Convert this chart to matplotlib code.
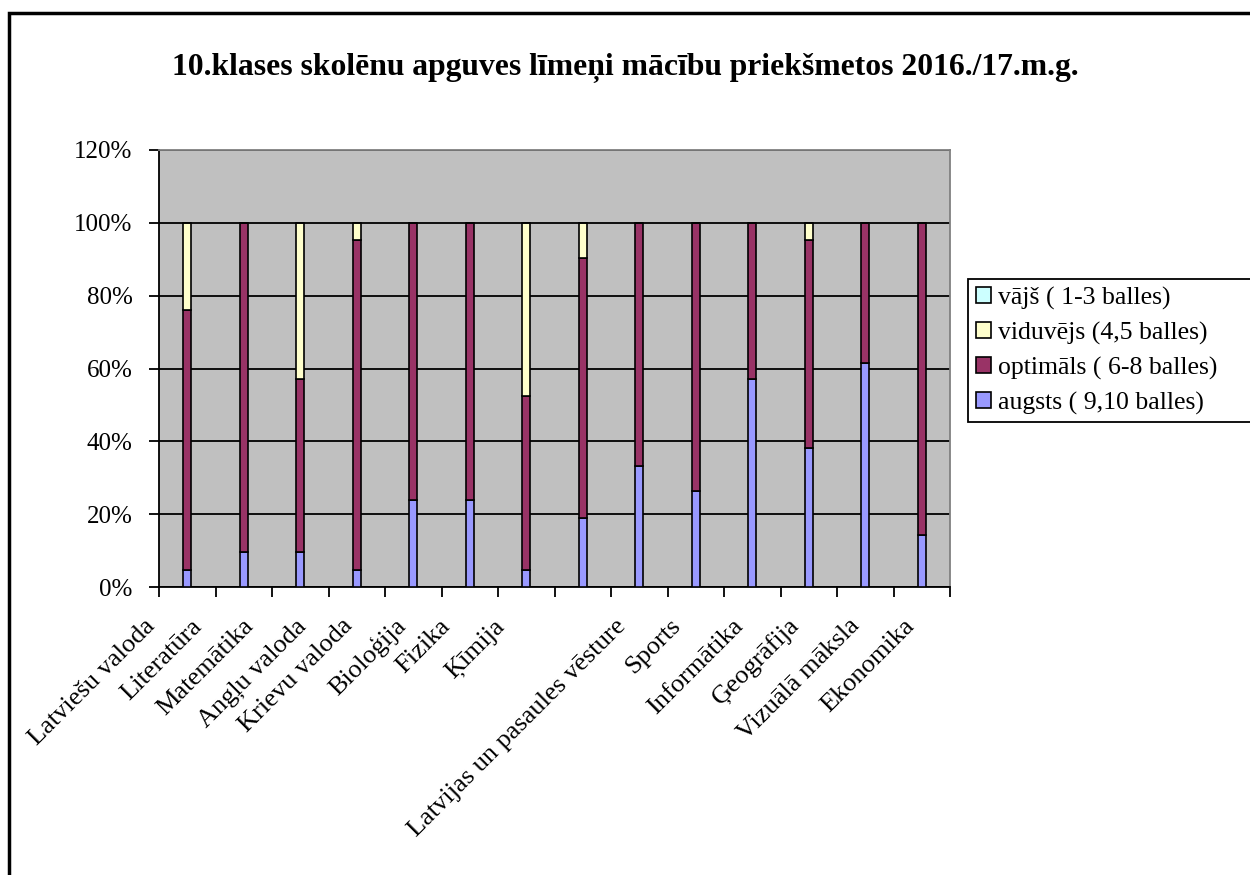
import numpy as np
import matplotlib
matplotlib.use('Agg')
import matplotlib.pyplot as plt
from matplotlib.patches import Rectangle
from matplotlib.ticker import FixedLocator, PercentFormatter

plt.rcParams['font.family'] = ['Liberation Serif', 'DejaVu Serif']

subjects = ['Latviešu valoda', 'Literatūra', 'Matemātika', 'Angļu valoda', 'Krievu valoda',
            'Bioloģija', 'Fizika', 'Ķīmija', 'Latvijas un pasaules vēsture', 'Sports',
            'Informātika', 'Ģeogrāfija', 'Vizuālā māksla', 'Ekonomika']
augsts = [4.8, 9.5, 9.5, 4.8, 23.8, 23.8, 4.8, 19.0, 33.3, 26.3, 57.1, 38.1, 61.5, 14.3]
optimals = [71.4, 90.5, 47.6, 90.5, 76.2, 76.2, 47.6, 71.4, 66.7, 73.7, 42.9, 57.1, 38.5, 85.7]
viduvejs = [23.8, 0, 42.9, 4.7, 0, 0, 47.6, 9.6, 0, 0, 0, 4.8, 0, 0]
vajs = [0] * 14
legend_names = ['augsts ( 9,10 balles)', 'optimāls ( 6-8 balles)', 'viduvējs (4,5 balles)', 'vājš ( 1-3 balles)']
colors = ['#9999FF', '#993366', '#FFFFCC', '#CCFFFF']

# horizontal pixel shift of each rotated label end (Excel layout)
label_shift = [-31, -41, -46, -50, -60, -63, -75, -78, -13, -14, -8, -8, -5, -7]

fig = plt.figure(figsize=(12.5, 8.75), dpi=100)
ax = fig.add_axes([159 / 1250, 1 - 587 / 875, (950 - 159) / 1250, (587 - 150) / 875])
ax.set_facecolor('#C0C0C0')

x = np.arange(len(subjects))
bottom = np.zeros(len(subjects))
series = [augsts, optimals, viduvejs, vajs]
handles = []
for vals, col, name in zip(series, colors, legend_names):
    vals = np.array(vals, dtype=float)
    b = ax.bar(x, vals, 0.15, bottom=bottom, color=col, edgecolor='black', linewidth=1.2,
               label=name, zorder=3)
    handles.append(b)
    bottom += vals

ax.set_xlim(-0.5, len(subjects) - 0.5)
ax.set_ylim(0, 120)
ax.set_yticks(np.arange(0, 121, 20))
ax.yaxis.set_major_formatter(PercentFormatter(decimals=0))
ax.yaxis.grid(True, color='black', linewidth=1.3, zorder=1)
ax.set_axisbelow(True)
ax.xaxis.set_major_locator(FixedLocator(np.arange(-0.5, len(subjects), 1.0)))
ax.set_xticklabels([])
ax.tick_params(axis='both', direction='out', length=7, width=1.3, color='black')
ax.tick_params(axis='y', labelsize=18, pad=12)

for s in ['left', 'bottom']:
    ax.spines[s].set_color('black')
    ax.spines[s].set_linewidth(1.3)
for s in ['top', 'right']:
    ax.spines[s].set_color('#808080')
    ax.spines[s].set_linewidth(1.3)

for i, name in enumerate(subjects):
    ax.annotate(name, xy=(i, 0), xycoords=('data', 'axes fraction'),
                xytext=(label_shift[i], -40), textcoords='offset pixels',
                rotation=45, ha='right', va='baseline', rotation_mode='anchor',
                fontsize=19)

leg = fig.legend(handles[::-1], legend_names[::-1], loc='upper left',
                 bbox_to_anchor=(968 / 1250, 0, 0.25, 1 - 279 / 875), mode='expand',
                 fontsize=18.5, frameon=True, fancybox=False, edgecolor='black', framealpha=1,
                 handlelength=0.6, handleheight=0.6, handletextpad=0.25,
                 labelspacing=0.46, borderpad=0.3, borderaxespad=0)
leg.get_frame().set_linewidth(1.3)

fig.text(0.5, 1 - 68 / 875, '10.klases skolēnu apguves līmeņi mācību priekšmetos 2016./17.m.g.',
         ha='center', va='center', fontsize=22.8, fontweight='bold')

fig.add_artist(Rectangle((9 / 1250, -0.1), 1.2, 1.1 - 13 / 875, transform=fig.transFigure,
                         fill=False, edgecolor='black', linewidth=2.5))

fig.savefig('out.png', dpi=100)
